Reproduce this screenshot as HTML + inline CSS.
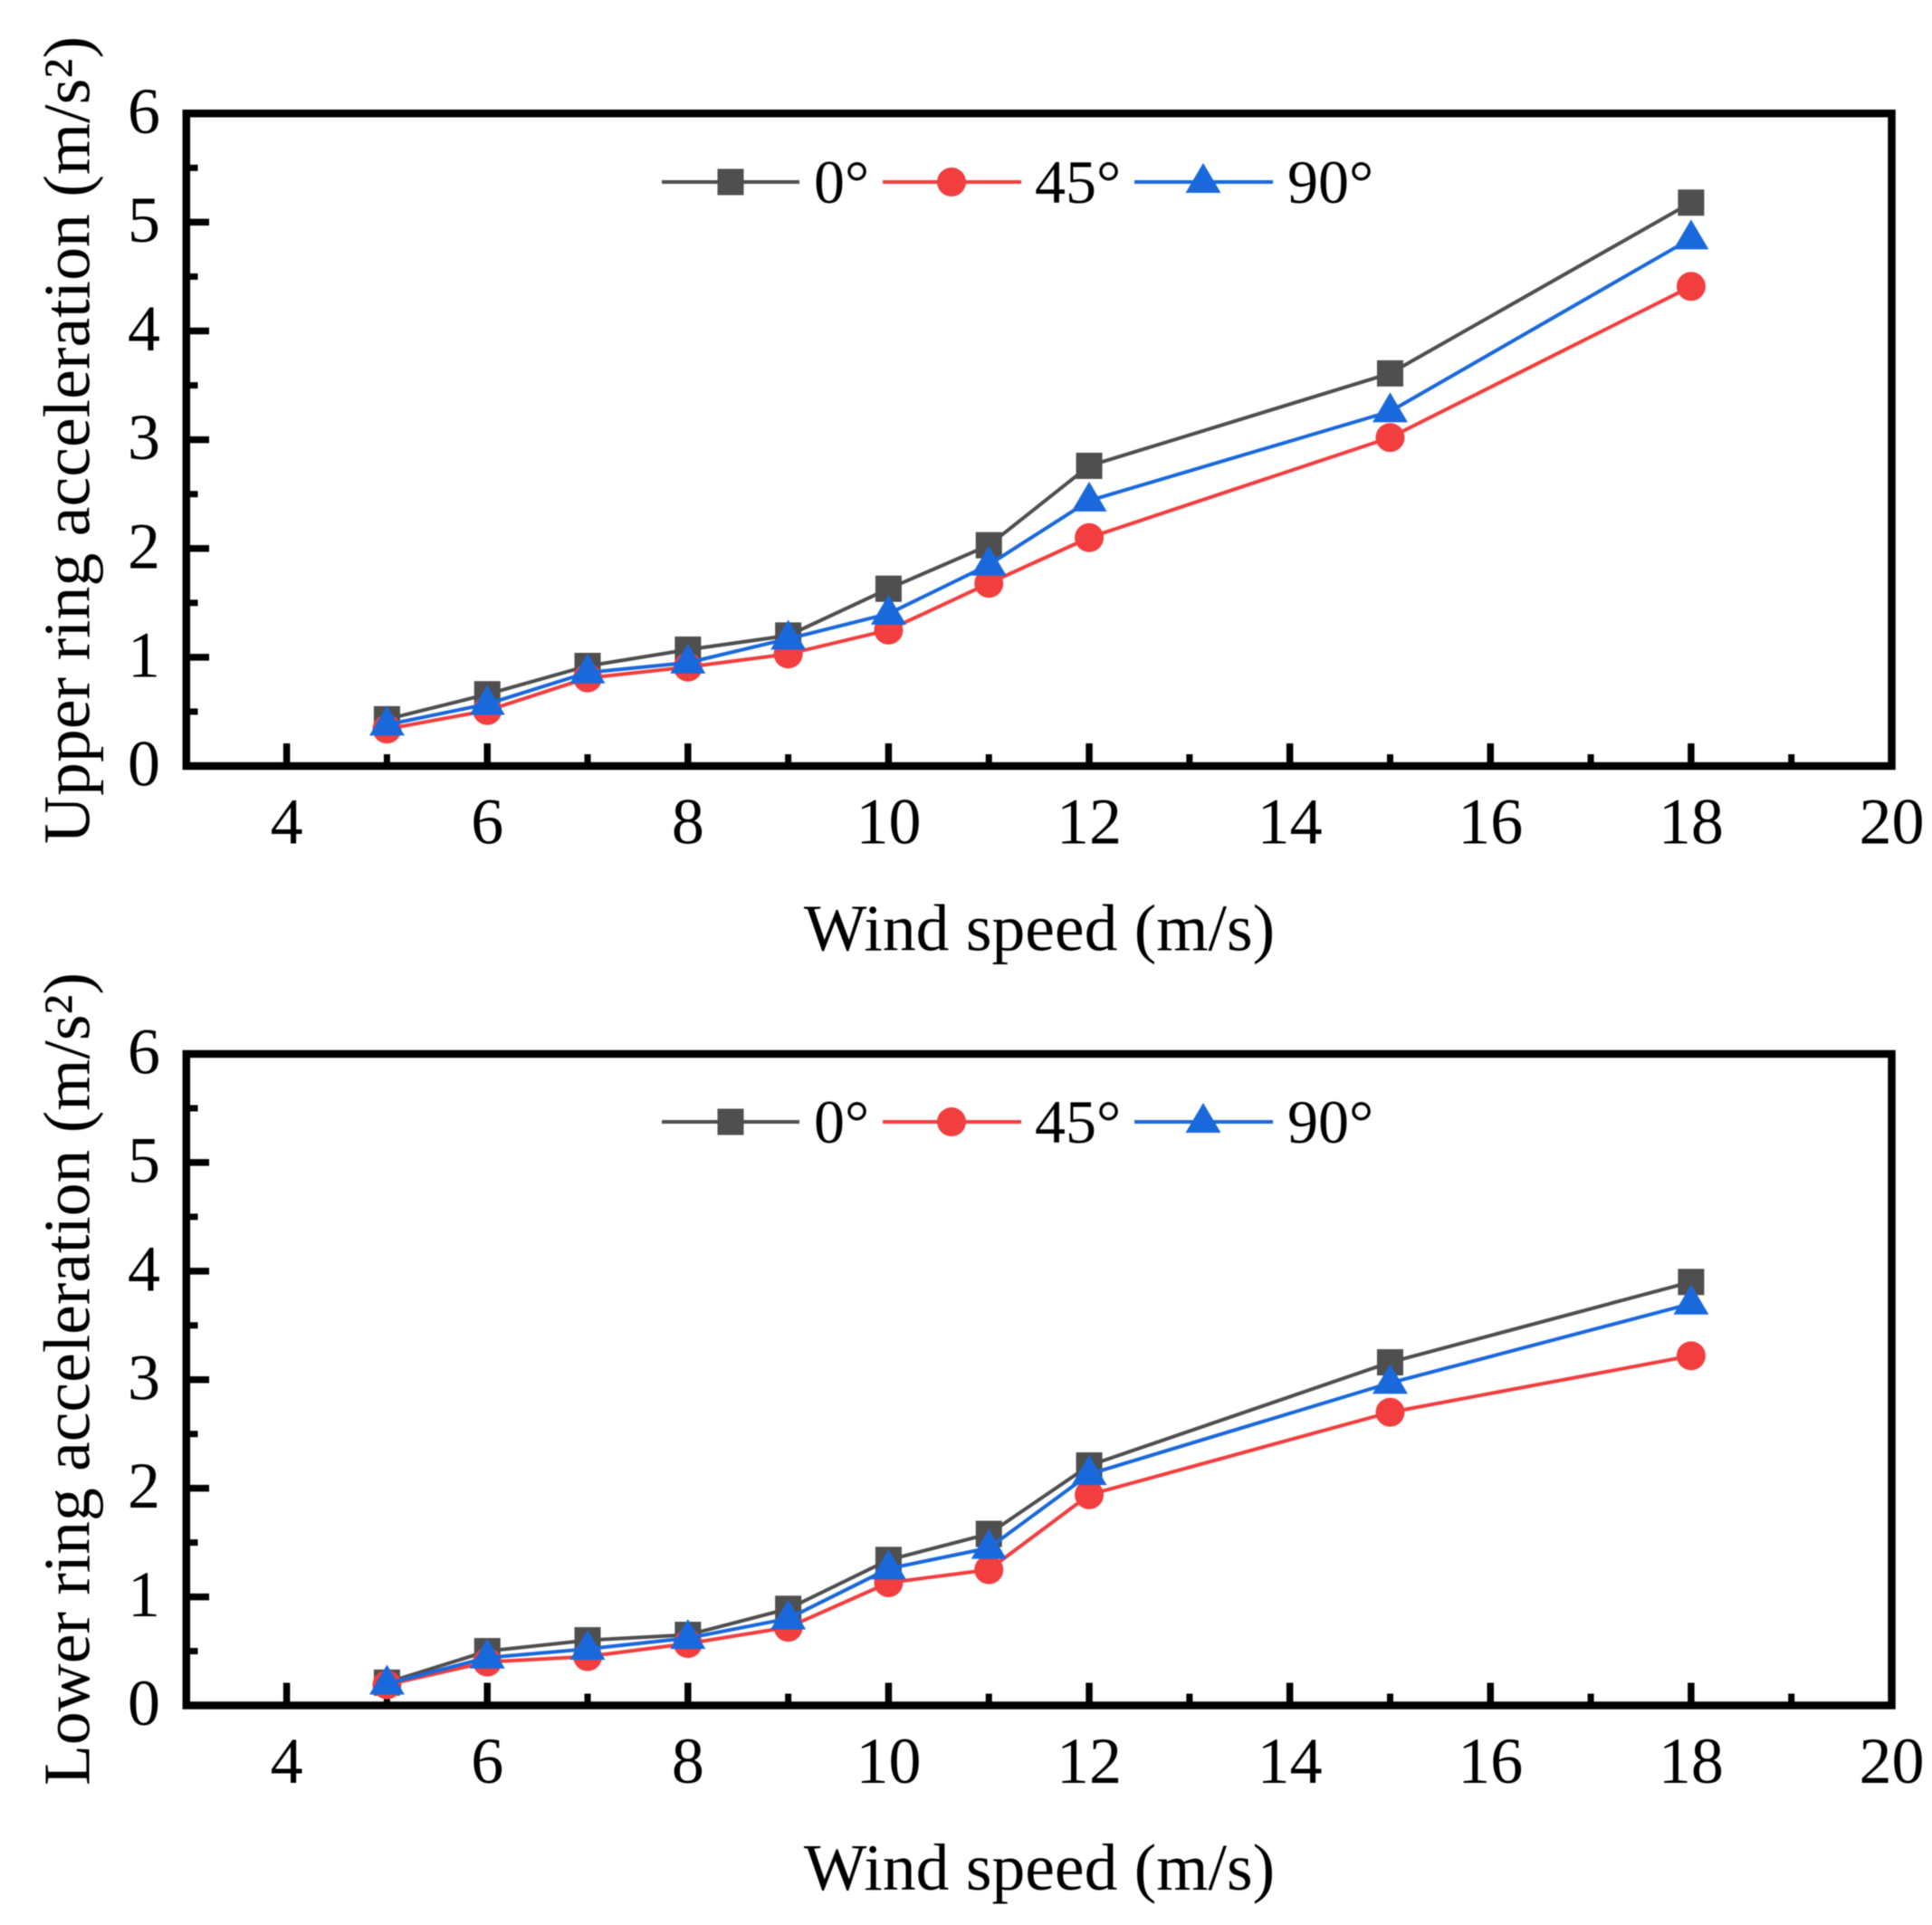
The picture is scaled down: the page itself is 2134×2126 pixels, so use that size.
<!DOCTYPE html>
<html lang="en">
<head>
<meta charset="utf-8">
<title>Ring acceleration vs wind speed</title>
<style>
  html, body { margin: 0; padding: 0; background: #fff; }
  svg { display: block; filter: blur(0.55px); }
  text { font-family: "Liberation Serif", serif; fill: #000; }
</style>
</head>
<body>
<svg id="figure" xmlns="http://www.w3.org/2000/svg" width="2134" height="2126" viewBox="0 0 2134 2126">
  <rect x="0" y="0" width="2134" height="2126" fill="#fff"/>

  <g id="panel-upper"></g>
  <text transform="translate(98.5 932) rotate(-90)" font-size="73.5" textLength="892" lengthAdjust="spacing">Upper ring acceleration (m/s²)</text>
  <text x="1148" y="1049.5" font-size="73.6" text-anchor="middle">Wind speed (m/s)</text>
  <g>
    <g>
      <line x1="731" y1="201" x2="883" y2="201" stroke="#4f4f4f" stroke-width="4"/>
      <rect x="792.5" y="186.5" width="29" height="29" fill="#4f4f4f"/>
      <text x="899" y="224" font-size="68">0°</text>
    </g>
    <g>
      <line x1="975" y1="201" x2="1128" y2="201" stroke="#f23e3e" stroke-width="4"/>
      <circle cx="1051" cy="201" r="16" fill="#f23e3e"/>
      <text x="1143" y="224" font-size="68">45°</text>
    </g>
    <g>
      <line x1="1253" y1="201" x2="1406" y2="201" stroke="#1a69dc" stroke-width="4"/>
      <polygon points="1329,180 1348.5,213 1309.5,213" fill="#1a69dc"/>
      <text x="1422" y="224" font-size="68">90°</text>
    </g>
  </g>

  <g id="panel-lower"></g>
  <text transform="translate(98.5 1972) rotate(-90)" font-size="73.5" textLength="898" lengthAdjust="spacing">Lower ring acceleration (m/s²)</text>
  <text x="1148" y="2087" font-size="73.6" text-anchor="middle">Wind speed (m/s)</text>
  <g>
    <g>
      <line x1="731" y1="1239" x2="883" y2="1239" stroke="#4f4f4f" stroke-width="4"/>
      <rect x="792.5" y="1224.5" width="29" height="29" fill="#4f4f4f"/>
      <text x="899" y="1262" font-size="68">0°</text>
    </g>
    <g>
      <line x1="975" y1="1239" x2="1128" y2="1239" stroke="#f23e3e" stroke-width="4"/>
      <circle cx="1051" cy="1239" r="16" fill="#f23e3e"/>
      <text x="1143" y="1262" font-size="68">45°</text>
    </g>
    <g>
      <line x1="1253" y1="1239" x2="1406" y2="1239" stroke="#1a69dc" stroke-width="4"/>
      <polygon points="1329,1218 1348.5,1251 1309.5,1251" fill="#1a69dc"/>
      <text x="1422" y="1262" font-size="68">90°</text>
    </g>
  </g>
</svg>

<script>
var windSpeeds = [5, 6, 7, 8, 9, 10, 11, 12, 15, 18];
var upper0 = [0.43, 0.66, 0.92, 1.07, 1.20, 1.63, 2.03, 2.76, 3.61, 5.18];
var upper45 = [0.34, 0.51, 0.81, 0.91, 1.03, 1.25, 1.68, 2.10, 3.02, 4.41];
var upper90 = [0.38, 0.57, 0.86, 0.95, 1.17, 1.40, 1.85, 2.44, 3.26, 4.85];
var lower0 = [0.21, 0.50, 0.60, 0.65, 0.89, 1.34, 1.58, 2.21, 3.16, 3.90];
var lower45 = [0.19, 0.40, 0.45, 0.57, 0.72, 1.13, 1.25, 1.94, 2.70, 3.22];
var lower90 = [0.20, 0.44, 0.52, 0.62, 0.80, 1.26, 1.45, 2.13, 2.97, 3.70];
var xMajorTicks = [4, 6, 8, 10, 12, 14, 16, 18, 20];
var xMinorTicks = [5, 7, 9, 11, 13, 15, 17, 19];
var yMajorTicks = [0, 1, 2, 3, 4, 5, 6];
var yMinorTicks = [0.5, 1.5, 2.5, 3.5, 4.5, 5.5];
var xTickLabels = ['4', '6', '8', '10', '12', '14', '16', '18', '20'];
var yTickLabels = ['0', '1', '2', '3', '4', '5', '6'];

var SVG_NS = 'http://www.w3.org/2000/svg';
var GREY = '#4f4f4f';
var RED = '#f23e3e';
var BLUE = '#1a69dc';

function xAxis(v) {
  return 205.8 + (v - 3) * (2089.5 - 205.8) / 17;
}
function makeYAxis(top, bottom) {
  return function (v) {
    return bottom - v * (bottom - top) / 6;
  };
}
function make(tag, attrs, parent) {
  var el = document.createElementNS(SVG_NS, tag);
  for (var key in attrs) {
    el.setAttribute(key, attrs[key]);
  }
  parent.appendChild(el);
  return el;
}

function drawAxes(prefix, group, yAxis, top, bottom) {
  var frame = make('rect', { x: 205.8, y: top, width: 2089.5 - 205.8, height: bottom - top, fill: 'none', stroke: '#000', 'stroke-width': 8.5 }, group);
  
  

  xMajorTicks.forEach(function (t, i) {
    var tick = make('line', { x1: xAxis(t), y1: bottom, x2: xAxis(t), y2: bottom - 25, stroke: '#000', 'stroke-width': 7.5 }, group);
    
    
    var label = make('text', { x: xAxis(t), y: bottom + 85.5, 'font-size': 72, 'text-anchor': 'middle' }, group);
    label.textContent = xTickLabels[i];
    
    
  });
  xMinorTicks.forEach(function (t) {
    var tick = make('line', { x1: xAxis(t), y1: bottom, x2: xAxis(t), y2: bottom - 13, stroke: '#000', 'stroke-width': 7 }, group);
    
    
  });
  yMajorTicks.forEach(function (t, i) {
    var tick = make('line', { x1: 205.8, y1: yAxis(t), x2: 231, y2: yAxis(t), stroke: '#000', 'stroke-width': 7.5 }, group);
    
    
    var label = make('text', { x: 177, y: yAxis(t) + 21.5, 'font-size': 72, 'text-anchor': 'end' }, group);
    label.textContent = yTickLabels[i];
    
    
  });
  yMinorTicks.forEach(function (t) {
    var tick = make('line', { x1: 205.8, y1: yAxis(t), x2: 218.5, y2: yAxis(t), stroke: '#000', 'stroke-width': 7 }, group);
    
    
  });
}

function drawSeries(prefix, label, group, yAxis, values, color, shape) {
  var points = windSpeeds.map(function (w, i) {
    return xAxis(w) + ',' + yAxis(values[i]);
  }).join(' ');
  var line = make('polyline', { points: points, fill: 'none', stroke: color, 'stroke-width': 4, 'stroke-linejoin': 'round' }, group);
  
  

  windSpeeds.forEach(function (w, i) {
    var cx = xAxis(w);
    var cy = yAxis(values[i]);
    var mark;
    if (shape === 'square') {
      mark = make('rect', { x: cx - 14.5, y: cy - 14.5, width: 29, height: 29, fill: color }, group);
    } else if (shape === 'circle') {
      mark = make('circle', { cx: cx, cy: cy, r: 16, fill: color }, group);
    } else {
      mark = make('polygon', { points: cx + ',' + (cy - 21) + ' ' + (cx + 19.5) + ',' + (cy + 12) + ' ' + (cx - 19.5) + ',' + (cy + 12), fill: color }, group);
    }
    
    
  });
}

function drawPanel(prefix, groupId, top, bottom, v0, v45, v90) {
  var group = document.getElementById(groupId);
  var yAxis = makeYAxis(top, bottom);
  drawAxes(prefix, group, yAxis, top, bottom);
  drawSeries(prefix, '0-deg', group, yAxis, v0, GREY, 'square');
  drawSeries(prefix, '45-deg', group, yAxis, v45, RED, 'circle');
  drawSeries(prefix, '90-deg', group, yAxis, v90, BLUE, 'triangle');
}

drawPanel('upper', 'panel-upper', 125.3, 846, upper0, upper45, upper90);
drawPanel('lower', 'panel-lower', 1164, 1883.5, lower0, lower45, lower90);
</script>
</body>
</html>
